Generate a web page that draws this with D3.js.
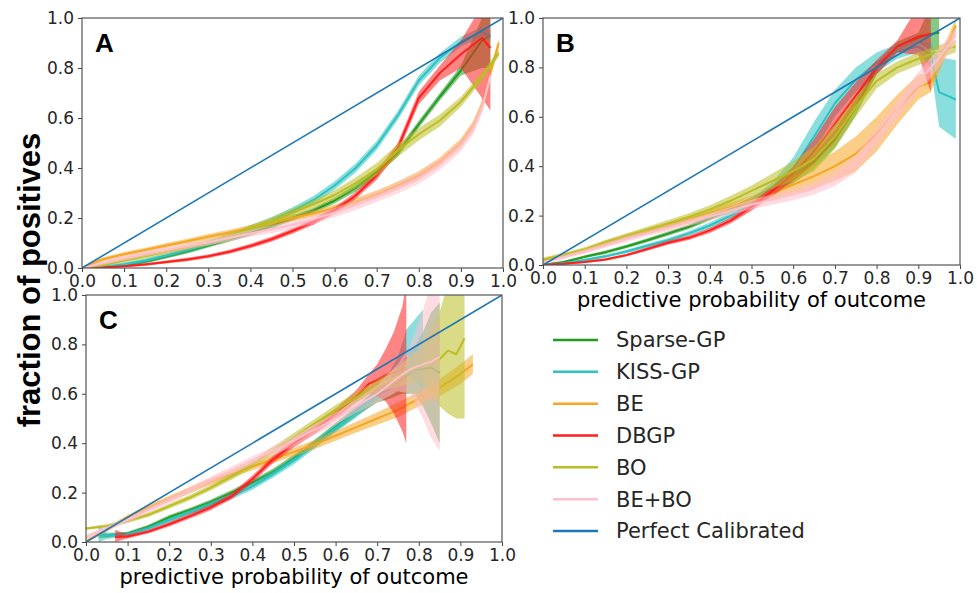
<!DOCTYPE html>
<html>
<head>
<meta charset="utf-8">
<script src="https://cdn.jsdelivr.net/npm/d3@7"></script>
<style>
  body { margin: 0; background: #fff; }
  svg { display: block; }
  .tick text { font-family: "DejaVu Sans", sans-serif; fill: #262626; }
</style>
</head>
<body>
<div id="chart"></div>
<script>
// Series names / colors (legend order)
const seriesNames = ['Sparse-GP', 'KISS-GP', 'BE', 'DBGP', 'BO', 'BE+BO'];
const seriesColors = ['#239a23', '#2cc3c3', '#f5a623', '#ff1f1f', '#bcbd22', '#ffc0cb'];
const diagonalName = 'Perfect Calibrated';
const diagonalColor = '#1f77b4';
const tickValues = [0, 0.1, 0.2, 0.3, 0.4, 0.5, 0.6, 0.7, 0.8, 0.9, 1.0];

// each point: [predicted prob, fraction positives, band low, band high]
// Panel A
const A_sparseGP = [[0,0,0,0],[0.05,0.003,0,0.008],[0.1,0.01,0.005,0.016],[0.15,0.025,0.018,0.032],[0.2,0.045,0.038,0.052],[0.25,0.066,0.058,0.074],[0.3,0.09,0.082,0.098],[0.35,0.115,0.105,0.125],[0.4,0.14,0.13,0.15],[0.45,0.168,0.157,0.18],[0.5,0.2,0.19,0.21],[0.55,0.23,0.22,0.24],[0.6,0.27,0.258,0.282],[0.65,0.32,0.305,0.335],[0.7,0.385,0.37,0.4],[0.75,0.46,0.445,0.475],[0.8,0.575,0.56,0.59],[0.85,0.685,0.67,0.7],[0.9,0.79,0.77,0.81],[0.95,0.91,0.8,1.0],[0.97,0.93,0.8,1.0]];
const A_kissGP = [[0,0,0,0],[0.05,0.004,0,0.01],[0.1,0.015,0.008,0.022],[0.15,0.03,0.022,0.038],[0.2,0.05,0.042,0.058],[0.25,0.072,0.063,0.081],[0.3,0.097,0.087,0.107],[0.35,0.125,0.113,0.137],[0.4,0.158,0.145,0.171],[0.45,0.19,0.177,0.203],[0.5,0.228,0.213,0.243],[0.55,0.272,0.256,0.288],[0.6,0.33,0.313,0.347],[0.65,0.4,0.382,0.418],[0.7,0.49,0.472,0.508],[0.75,0.61,0.592,0.628],[0.8,0.75,0.73,0.77],[0.85,0.84,0.82,0.86],[0.9,0.905,0.885,0.925],[0.95,0.945,0.925,0.965],[0.97,0.93,0.91,0.95]];
const A_be = [[0,0,0,0.005],[0.05,0.035,0.027,0.043],[0.1,0.055,0.046,0.064],[0.15,0.072,0.063,0.081],[0.2,0.09,0.08,0.1],[0.25,0.107,0.097,0.117],[0.3,0.125,0.114,0.136],[0.35,0.142,0.131,0.153],[0.4,0.16,0.148,0.172],[0.45,0.18,0.168,0.192],[0.5,0.2,0.187,0.213],[0.55,0.218,0.205,0.231],[0.6,0.24,0.226,0.254],[0.65,0.265,0.25,0.28],[0.7,0.295,0.28,0.31],[0.75,0.33,0.314,0.346],[0.8,0.37,0.353,0.387],[0.85,0.425,0.408,0.442],[0.9,0.5,0.482,0.518],[0.93,0.57,0.55,0.59],[0.95,0.65,0.63,0.67],[0.97,0.78,0.76,0.8],[0.99,0.9,0.88,0.92]];
const A_dbgp = [[0,0,0,0],[0.05,0.002,0,0.006],[0.1,0.007,0.003,0.011],[0.15,0.014,0.009,0.019],[0.2,0.024,0.018,0.03],[0.25,0.034,0.027,0.041],[0.3,0.047,0.04,0.054],[0.35,0.065,0.057,0.073],[0.4,0.088,0.079,0.097],[0.45,0.115,0.105,0.125],[0.5,0.148,0.137,0.159],[0.55,0.185,0.173,0.197],[0.6,0.23,0.217,0.243],[0.65,0.29,0.276,0.304],[0.7,0.37,0.353,0.387],[0.75,0.48,0.46,0.5],[0.8,0.68,0.655,0.705],[0.85,0.78,0.75,0.81],[0.9,0.855,0.8,0.91],[0.95,0.92,0.68,1.05],[0.97,0.88,0.63,1.05]];
const A_bo = [[0,0,0,0],[0.05,0.012,0.006,0.018],[0.1,0.03,0.022,0.038],[0.15,0.047,0.038,0.056],[0.2,0.065,0.055,0.075],[0.25,0.083,0.072,0.094],[0.3,0.102,0.09,0.114],[0.35,0.125,0.112,0.138],[0.4,0.158,0.144,0.172],[0.45,0.188,0.173,0.203],[0.5,0.222,0.206,0.238],[0.55,0.255,0.238,0.272],[0.6,0.292,0.273,0.311],[0.65,0.34,0.318,0.362],[0.7,0.395,0.37,0.42],[0.75,0.47,0.445,0.495],[0.8,0.535,0.51,0.56],[0.85,0.59,0.566,0.614],[0.9,0.665,0.645,0.685],[0.95,0.765,0.748,0.782],[0.99,0.86,0.845,0.875]];
const A_bebo = [[0,0,0,0],[0.05,0.02,0.012,0.028],[0.1,0.04,0.03,0.05],[0.15,0.057,0.046,0.068],[0.2,0.073,0.062,0.084],[0.25,0.088,0.077,0.099],[0.3,0.103,0.091,0.115],[0.35,0.12,0.107,0.133],[0.4,0.138,0.124,0.152],[0.45,0.155,0.14,0.17],[0.5,0.173,0.157,0.189],[0.55,0.195,0.178,0.212],[0.6,0.222,0.203,0.241],[0.65,0.252,0.232,0.272],[0.7,0.285,0.264,0.306],[0.75,0.32,0.298,0.342],[0.8,0.36,0.337,0.383],[0.85,0.415,0.392,0.438],[0.9,0.49,0.466,0.514],[0.93,0.56,0.536,0.584],[0.95,0.64,0.616,0.664],[0.97,0.77,0.745,0.795]];

// Panel B
const B_sparseGP = [[0,0,0,0.005],[0.05,0.012,0.007,0.017],[0.1,0.033,0.027,0.039],[0.15,0.052,0.045,0.059],[0.2,0.075,0.068,0.082],[0.25,0.1,0.092,0.108],[0.3,0.127,0.118,0.136],[0.35,0.155,0.146,0.164],[0.4,0.19,0.18,0.2],[0.45,0.225,0.214,0.236],[0.5,0.26,0.245,0.275],[0.55,0.3,0.28,0.32],[0.6,0.355,0.33,0.38],[0.65,0.42,0.39,0.45],[0.7,0.51,0.475,0.545],[0.75,0.64,0.605,0.675],[0.8,0.795,0.77,0.82],[0.85,0.885,0.865,0.905],[0.9,0.92,0.9,0.94],[0.93,0.935,0.87,1.05],[0.95,0.94,0.87,1.05]];
const B_kissGP = [[0,0,0,0.004],[0.05,0.007,0.003,0.011],[0.1,0.02,0.015,0.025],[0.15,0.035,0.029,0.041],[0.2,0.055,0.048,0.062],[0.25,0.078,0.07,0.086],[0.3,0.1,0.091,0.109],[0.35,0.128,0.118,0.138],[0.4,0.16,0.148,0.172],[0.45,0.2,0.186,0.214],[0.5,0.25,0.232,0.268],[0.55,0.31,0.285,0.335],[0.6,0.39,0.345,0.435],[0.65,0.52,0.46,0.58],[0.7,0.655,0.6,0.71],[0.75,0.75,0.7,0.8],[0.8,0.82,0.78,0.86],[0.85,0.865,0.835,0.895],[0.9,0.885,0.86,0.91],[0.93,0.85,0.8,0.9],[0.95,0.7,0.56,0.84],[0.99,0.67,0.51,0.83]];
const B_be = [[0,0.02,0.013,0.027],[0.05,0.04,0.032,0.048],[0.1,0.06,0.051,0.069],[0.15,0.09,0.08,0.1],[0.2,0.115,0.104,0.126],[0.25,0.138,0.126,0.15],[0.3,0.16,0.147,0.173],[0.35,0.185,0.171,0.199],[0.4,0.21,0.194,0.226],[0.45,0.235,0.218,0.252],[0.5,0.26,0.24,0.28],[0.55,0.29,0.265,0.315],[0.6,0.325,0.29,0.36],[0.65,0.36,0.31,0.41],[0.7,0.4,0.34,0.46],[0.75,0.45,0.38,0.52],[0.8,0.53,0.46,0.6],[0.85,0.63,0.57,0.69],[0.9,0.72,0.67,0.77],[0.93,0.74,0.7,0.78],[0.96,0.85,0.82,0.88],[0.99,0.97,0.94,1.0]];
const B_dbgp = [[0,0,0,0.003],[0.05,0.005,0.002,0.008],[0.1,0.012,0.008,0.016],[0.15,0.022,0.017,0.027],[0.2,0.04,0.034,0.046],[0.25,0.065,0.058,0.072],[0.3,0.09,0.082,0.098],[0.35,0.11,0.101,0.119],[0.4,0.14,0.13,0.15],[0.45,0.18,0.168,0.192],[0.5,0.235,0.22,0.25],[0.55,0.3,0.28,0.32],[0.6,0.37,0.34,0.4],[0.65,0.46,0.41,0.51],[0.7,0.57,0.5,0.64],[0.75,0.685,0.63,0.74],[0.8,0.8,0.77,0.83],[0.85,0.885,0.86,0.91],[0.9,0.925,0.85,1.05],[0.93,0.935,0.7,1.05]];
const B_bo = [[0,0.02,0.01,0.03],[0.05,0.04,0.03,0.05],[0.1,0.062,0.052,0.072],[0.15,0.09,0.079,0.101],[0.2,0.117,0.105,0.129],[0.25,0.142,0.129,0.155],[0.3,0.168,0.154,0.182],[0.35,0.195,0.18,0.21],[0.4,0.225,0.208,0.242],[0.45,0.26,0.24,0.28],[0.5,0.3,0.278,0.322],[0.55,0.34,0.31,0.37],[0.6,0.38,0.34,0.42],[0.65,0.43,0.38,0.48],[0.7,0.52,0.47,0.57],[0.75,0.64,0.6,0.68],[0.8,0.745,0.715,0.775],[0.85,0.8,0.775,0.825],[0.9,0.835,0.81,0.86],[0.95,0.865,0.84,0.89],[0.99,0.885,0.86,0.91]];
const B_bebo = [[0,0.01,0.004,0.016],[0.05,0.032,0.024,0.04],[0.1,0.055,0.046,0.064],[0.15,0.08,0.07,0.09],[0.2,0.105,0.094,0.116],[0.25,0.128,0.116,0.14],[0.3,0.15,0.137,0.163],[0.35,0.172,0.158,0.186],[0.4,0.195,0.18,0.21],[0.45,0.22,0.203,0.237],[0.5,0.245,0.226,0.264],[0.55,0.265,0.244,0.286],[0.6,0.285,0.262,0.308],[0.65,0.31,0.285,0.335],[0.7,0.35,0.32,0.38],[0.75,0.41,0.375,0.445],[0.8,0.52,0.48,0.56],[0.85,0.63,0.59,0.67],[0.9,0.74,0.7,0.78],[0.95,0.84,0.8,0.88],[0.99,0.93,0.9,0.96]];

// Panel C
const C_sparseGP = [[0.03,0.03,0.015,0.045],[0.05,0.025,0.017,0.033],[0.1,0.035,0.028,0.042],[0.15,0.062,0.054,0.07],[0.2,0.1,0.091,0.109],[0.25,0.13,0.121,0.139],[0.3,0.162,0.152,0.172],[0.35,0.2,0.189,0.211],[0.4,0.24,0.228,0.252],[0.45,0.285,0.272,0.298],[0.5,0.34,0.326,0.354],[0.55,0.4,0.385,0.415],[0.6,0.465,0.448,0.482],[0.65,0.53,0.51,0.55],[0.7,0.595,0.565,0.625],[0.73,0.62,0.58,0.66],[0.76,0.66,0.6,0.72],[0.79,0.695,0.6,0.79],[0.81,0.7,0.55,0.85],[0.83,0.705,0.48,0.93],[0.85,0.685,0.4,0.97]];
const C_kissGP = [[0.03,0.03,0.0,0.07],[0.05,0.025,0.012,0.038],[0.1,0.03,0.022,0.038],[0.15,0.055,0.047,0.063],[0.2,0.088,0.079,0.097],[0.25,0.12,0.11,0.13],[0.3,0.152,0.141,0.163],[0.35,0.185,0.173,0.197],[0.4,0.225,0.212,0.238],[0.45,0.275,0.261,0.289],[0.5,0.33,0.315,0.345],[0.55,0.395,0.379,0.411],[0.6,0.46,0.443,0.477],[0.65,0.525,0.505,0.545],[0.7,0.6,0.575,0.625],[0.73,0.65,0.61,0.69],[0.75,0.7,0.65,0.75],[0.77,0.76,0.68,0.86],[0.79,0.78,0.66,0.9],[0.81,0.775,0.62,0.94]];
const C_be = [[0,0.0,0,0.01],[0.05,0.05,0.04,0.06],[0.1,0.1,0.09,0.11],[0.15,0.14,0.129,0.151],[0.2,0.175,0.163,0.187],[0.25,0.21,0.197,0.223],[0.3,0.245,0.232,0.258],[0.35,0.275,0.261,0.289],[0.4,0.305,0.29,0.32],[0.45,0.335,0.319,0.351],[0.5,0.365,0.348,0.382],[0.55,0.395,0.377,0.413],[0.6,0.43,0.41,0.45],[0.65,0.465,0.443,0.487],[0.7,0.5,0.475,0.525],[0.75,0.535,0.505,0.565],[0.8,0.58,0.55,0.61],[0.85,0.625,0.59,0.66],[0.9,0.68,0.64,0.72],[0.93,0.72,0.68,0.76]];
const C_dbgp = [[0.07,0.02,0.0,0.05],[0.1,0.022,0.014,0.03],[0.15,0.042,0.034,0.05],[0.2,0.072,0.063,0.081],[0.25,0.105,0.095,0.115],[0.3,0.14,0.129,0.151],[0.35,0.185,0.173,0.197],[0.4,0.255,0.241,0.269],[0.45,0.335,0.32,0.35],[0.5,0.4,0.384,0.416],[0.55,0.455,0.437,0.473],[0.6,0.52,0.5,0.54],[0.65,0.59,0.565,0.615],[0.68,0.64,0.6,0.68],[0.7,0.655,0.59,0.72],[0.72,0.675,0.57,0.78],[0.74,0.685,0.52,0.85],[0.76,0.7,0.45,0.95],[0.77,0.75,0.4,1.05]];
const C_bo = [[0,0.055,0.05,0.06],[0.05,0.065,0.058,0.072],[0.1,0.085,0.077,0.093],[0.15,0.11,0.101,0.119],[0.2,0.145,0.135,0.155],[0.25,0.18,0.169,0.191],[0.3,0.22,0.208,0.232],[0.35,0.265,0.252,0.278],[0.4,0.315,0.3,0.33],[0.45,0.37,0.354,0.386],[0.5,0.425,0.408,0.442],[0.55,0.48,0.462,0.498],[0.6,0.535,0.515,0.555],[0.65,0.585,0.563,0.607],[0.7,0.63,0.605,0.655],[0.75,0.67,0.63,0.71],[0.8,0.715,0.65,0.78],[0.83,0.73,0.6,0.86],[0.85,0.74,0.55,0.93],[0.87,0.775,0.52,1.05],[0.89,0.76,0.5,1.05],[0.91,0.825,0.5,1.05]];
const C_bebo = [[0,0.02,0.01,0.03],[0.05,0.055,0.045,0.065],[0.1,0.09,0.079,0.101],[0.15,0.13,0.118,0.142],[0.2,0.17,0.157,0.183],[0.25,0.21,0.196,0.224],[0.3,0.25,0.235,0.265],[0.35,0.29,0.274,0.306],[0.4,0.33,0.313,0.347],[0.45,0.37,0.352,0.388],[0.5,0.41,0.39,0.43],[0.55,0.455,0.433,0.477],[0.6,0.5,0.476,0.524],[0.65,0.55,0.523,0.577],[0.7,0.6,0.565,0.635],[0.75,0.665,0.61,0.72],[0.78,0.7,0.6,0.8],[0.81,0.72,0.5,0.94],[0.83,0.73,0.42,1.05],[0.85,0.75,0.37,1.05]];

const width = 977, height = 593;
const svg = d3.select('#chart').append('svg')
  .attr('width', width).attr('height', height);

const panels = [
  { label: 'A', left: 82, right: 503, top: 18, bottom: 268, series: [A_sparseGP, A_kissGP, A_be, A_dbgp, A_bo, A_bebo], xTitle: false },
  { label: 'B', left: 543, right: 960, top: 18, bottom: 265, series: [B_sparseGP, B_kissGP, B_be, B_dbgp, B_bo, B_bebo], xTitle: true },
  { label: 'C', left: 86, right: 502, top: 295, bottom: 542, series: [C_sparseGP, C_kissGP, C_be, C_dbgp, C_bo, C_bebo], xTitle: true }
];

panels.forEach((p, pi) => {
  const x = d3.scaleLinear().domain([0, 1]).range([p.left, p.right]);
  const y = d3.scaleLinear().domain([0, 1]).range([p.bottom, p.top]);

  const clipId = 'clip' + pi;
  svg.append('clipPath').attr('id', clipId)
    .append('rect')
    .attr('x', p.left).attr('y', p.top)
    .attr('width', p.right - p.left).attr('height', p.bottom - p.top);

  const g = svg.append('g').attr('clip-path', `url(#${clipId})`);

  const area = d3.area()
    .x(d => x(d[0])).y0(d => y(d[2])).y1(d => y(d[3]));
  const line = d3.line()
    .x(d => x(d[0])).y(d => y(d[1]));

  // bands + lines in legend order
  p.series.forEach((data, i) => {
    g.append('path')
      .attr('d', area(data))
      .attr('fill', seriesColors[i])
      .attr('fill-opacity', 0.55)
      .attr('stroke', 'none');
    g.append('path')
      .attr('d', line(data))
      .attr('fill', 'none')
      .attr('stroke', seriesColors[i])
      .attr('stroke-width', 2)
      .attr('stroke-linejoin', 'round');
  });

  // perfect calibration
  g.append('path')
    .attr('d', line([[0, 0], [1, 1]]))
    .attr('stroke', diagonalColor)
    .attr('stroke-width', 1.6)
    .attr('fill', 'none');

  // axes
  const xAxis = svg.append('g')
    .attr('transform', `translate(0,${p.bottom})`)
    .call(d3.axisBottom(x).tickValues(tickValues).tickFormat(d3.format('.1f')).tickSize(4).tickPadding(3));
  const yAxis = svg.append('g')
    .attr('transform', `translate(${p.left},0)`)
    .call(d3.axisLeft(y).tickValues(tickValues.filter((d, i) => i % 2 === 0)).tickFormat(d3.format('.1f')).tickSize(4).tickPadding(4));
  [xAxis, yAxis].forEach(a => {
    a.select('.domain').remove();
    a.selectAll('.tick line').attr('stroke', '#444');
    a.selectAll('.tick text').style('font-size', '17px');
  });

  // frame
  svg.append('rect')
    .attr('x', p.left).attr('y', p.top)
    .attr('width', p.right - p.left).attr('height', p.bottom - p.top)
    .attr('fill', 'none').attr('stroke', '#555').attr('stroke-width', 1.2);

  // panel letter
  svg.append('text')
    .attr('x', p.left + 13).attr('y', p.top + 34)
    .attr('font-family', '"Liberation Sans", Arial, sans-serif')
    .attr('font-weight', 'bold')
    .attr('font-size', 26)
    .attr('fill', '#000')
    .text(p.label);

  if (p.xTitle) {
    svg.append('text')
      .attr('x', (p.left + p.right) / 2)
      .attr('y', p.bottom + 42)
      .attr('text-anchor', 'middle')
      .attr('font-family', '"DejaVu Sans", sans-serif')
      .attr('font-size', 21)
      .attr('fill', '#000')
      .text('predictive probability of outcome');
  }
});

// shared y title
svg.append('text')
  .attr('transform', 'translate(40,280) rotate(-90)')
  .attr('text-anchor', 'middle')
  .attr('font-family', '"Liberation Sans", Arial, sans-serif')
  .attr('font-weight', 'bold')
  .attr('font-size', 31)
  .attr('fill', '#000')
  .text('fraction of positives');

// legend
const legendNames = seriesNames.concat([diagonalName]);
const legendColors = seriesColors.concat([diagonalColor]);
const legend = svg.append('g').attr('class', 'legend');
const legendY = d3.scalePoint().domain(legendNames).range([340, 531]);
legendNames.forEach((name, i) => {
  const yy = legendY(name);
  legend.append('line')
    .attr('x1', 553).attr('x2', 598)
    .attr('y1', yy).attr('y2', yy)
    .attr('stroke', legendColors[i])
    .attr('stroke-width', 2.5);
  legend.append('text')
    .attr('x', 616).attr('y', yy)
    .attr('dy', '0.35em')
    .attr('font-family', '"DejaVu Sans", sans-serif')
    .attr('font-size', 21)
    .attr('fill', '#262626')
    .text(name);
});
</script>
</body>
</html>
